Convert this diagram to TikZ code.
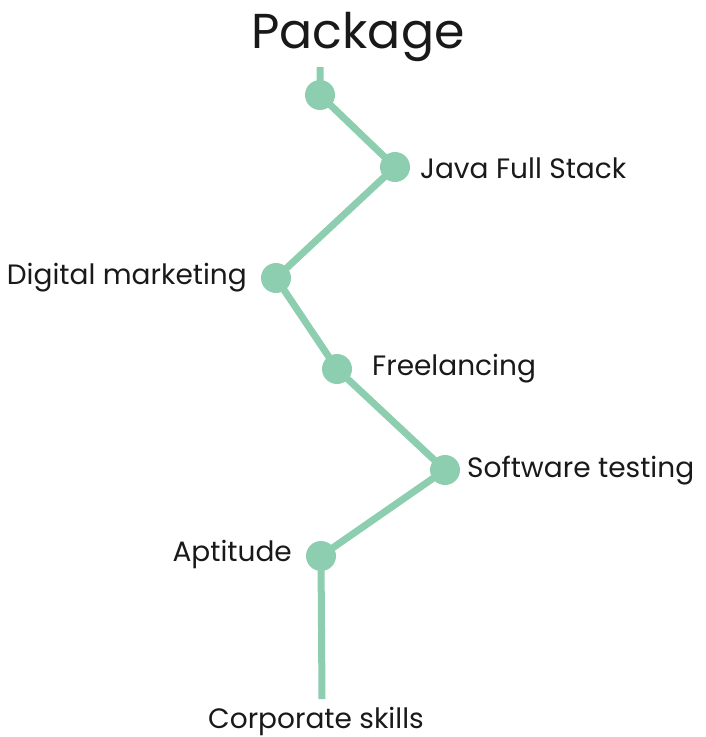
\documentclass[tikz,border=0pt]{standalone}
\usepackage{fontspec}
\setmainfont{Poppins}
\definecolor{mint}{HTML}{8ECEB0}
\begin{document}
\begin{tikzpicture}[x=1pt,y=-1pt,
  dot/.style={circle,fill=mint,minimum size=30pt,inner sep=0pt},
  lbl/.style={font=\fontsize{28}{32}\selectfont,text=black!90,inner sep=0pt},
  link/.style={draw=mint,line width=7pt}]
\useasboundingbox (0,0) rectangle (705,737);
\coordinate (top) at (320,67);
\coordinate (bot) at (322,699);
\node[dot] (d1) at (320,95) {};
\node[dot] (d2) at (395,167) {};
\node[dot] (d3) at (276,278) {};
\node[dot] (d4) at (337,369) {};
\node[dot] (d5) at (445,470) {};
\node[dot] (d6) at (321,556) {};
\draw[link] (top) -- (d1.center) -- (d2.center) -- (d3.center) -- (d4.center) -- (d5.center) -- (d6.center) -- (bot);
\node[font=\fontsize{49}{60}\selectfont,text=black!90,inner sep=0pt] (title) at (358,37) {Package};
\node[lbl,anchor=west] (l2) at (420,168) {Java Full Stack};
\node[lbl,anchor=east] (l3) at (247,278) {Digital marketing};
\node[lbl,anchor=west] (l4) at (372,369) {Freelancing};
\node[lbl,anchor=west] (l5) at (467,471) {Software testing};
\node[lbl,anchor=east] (l6) at (292,554) {Aptitude};
\node[lbl] (l7) at (316,721) {Corporate skills};
\end{tikzpicture}
\end{document}
